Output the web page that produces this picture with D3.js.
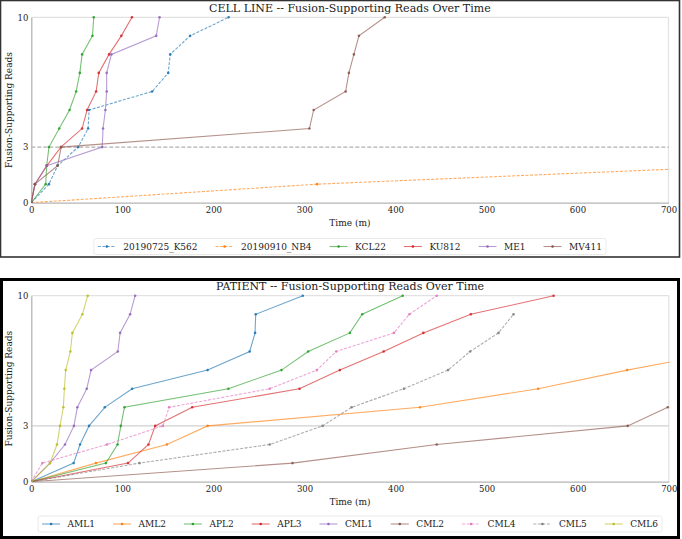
<!DOCTYPE html>
<html>
<head>
<meta charset="utf-8">
<script src="https://cdn.jsdelivr.net/npm/d3@7"></script>
<style>
  html, body { margin: 0; padding: 0; background: #fff; }
  svg { display: block; }
  text { font-family: "DejaVu Serif", serif; fill: #222; }
</style>
</head>
<body>
<svg id="chart" width="682" height="539"></svg>
<script>
// ---------- DATA ----------
const xTicks = [0, 100, 200, 300, 400, 500, 600, 700];
const yTicks = [0, 3, 10];
const threshold = 3;

// Cell line panel
const cellTitle = "CELL LINE -- Fusion-Supporting Reads Over Time";
const cellNames = ["20190725_K562", "20190910_NB4", "KCL22", "KU812", "ME1", "MV411"];
const cellColors = ["#1f77b4", "#ff7f0e", "#2ca02c", "#d62728", "#9467bd", "#8c564b"];
const cellDashed = [true, true, false, false, false, false];
const k562Time  = [0, 19.4, 28.9, 51.5, 62.4, 63.5, 132.8, 150.4, 152.6, 174.5, 216.8];
const k562Reads = [0, 1, 2, 3, 4, 5, 6, 7, 8, 9, 10];
const nb4Time   = [0, 314, 796];
const nb4Reads  = [0, 1, 2];
const kcl22Time  = [0, 15.8, 16.9, 19.4, 30.7, 42, 49.3, 53.3, 55.8, 67.2, 68.6];
const kcl22Reads = [0, 1, 2, 3, 4, 5, 6, 7, 8, 9, 10];
const ku812Time  = [0, 4, 17.2, 32.5, 55.8, 61.3, 71.2, 74.1, 85.4, 98.9, 110.6];
const ku812Reads = [0, 1, 2, 3, 4, 5, 6, 7, 8, 9, 10];
const me1Time  = [0, 4, 16.9, 77.9, 78.8, 81.4, 82.8, 82.8, 88, 137.2, 140.9];
const me1Reads = [0, 1, 2, 3, 4, 5, 6, 7, 8, 9, 10];
const mv411Time  = [0, 4, 28.9, 32.8, 305.5, 310.2, 345.3, 348.9, 354.4, 359.9, 388.3];
const mv411Reads = [0, 1, 2, 3, 4, 5, 6, 7, 8, 9, 10];

// Patient panel
const patientTitle = "PATIENT -- Fusion-Supporting Reads Over Time";
const patientNames = ["AML1", "AML2", "APL2", "APL3", "CML1", "CML2", "CML4", "CML5", "CML6"];
const patientColors = ["#1f77b4", "#ff7f0e", "#2ca02c", "#d62728", "#9467bd", "#8c564b", "#e377c2", "#7f7f7f", "#bcbd22"];
const patientDashed = [false, false, false, false, false, false, true, true, false];
const aml1Time  = [0, 46.5, 53.5, 63.4, 80.7, 110.7, 193.6, 239.8, 245.7, 246.4, 298.1];
const aml1Reads = [0, 1, 2, 3, 4, 5, 6, 7, 8, 9, 10];
const aml2Time  = [0, 71, 148.9, 193.6, 426.8, 556.6, 654.2, 763];
const aml2Reads = [0, 1, 2, 3, 4, 5, 6, 7];
const apl2Time  = [0, 81.9, 94.7, 98.3, 102.3, 216.4, 274.7, 304, 349.8, 363.4, 407.8];
const apl2Reads = [0, 1, 2, 3, 4, 5, 6, 7, 8, 9, 10];
const apl3Time  = [0, 106.2, 128.7, 136, 176.7, 294.5, 338.8, 386.9, 430.5, 482.6, 573.5];
const apl3Reads = [0, 1, 2, 3, 4, 5, 6, 7, 8, 9, 10];
const cml1Time  = [0, 20.5, 37, 46.8, 50.6, 60.9, 65.6, 95, 97.5, 108.5, 114];
const cml1Reads = [0, 1, 2, 3, 4, 5, 6, 7, 8, 9, 10];
const cml2Time  = [0, 286.8, 445.2, 654.9, 698.9];
const cml2Reads = [0, 1, 2, 3, 4];
const cml4Time  = [0, 12.1, 83, 144.5, 151.4, 261.8, 313.5, 334.8, 398.2, 415.1, 445.2];
const cml4Reads = [0, 1, 2, 3, 4, 5, 6, 7, 8, 9, 10];
const cml5Time  = [0, 118.8, 261.8, 319.8, 351.7, 409.2, 457.6, 481.8, 513, 529.5];
const cml5Reads = [0, 1, 2, 3, 4, 5, 6, 7, 8, 9];
const cml6Time  = [0, 20.5, 28.2, 31.5, 35.2, 36.3, 37.8, 42.9, 45.1, 56.1, 62];
const cml6Reads = [0, 1, 2, 3, 4, 5, 6, 7, 8, 9, 10];

// ---------- BUILD TABLES ----------
function zipSeries(t, r) { return t.map((v, i) => ({ t: v, r: r[i] })); }
const cellSeries = [
  zipSeries(k562Time, k562Reads), zipSeries(nb4Time, nb4Reads), zipSeries(kcl22Time, kcl22Reads),
  zipSeries(ku812Time, ku812Reads), zipSeries(me1Time, me1Reads), zipSeries(mv411Time, mv411Reads)
].map((pts, i) => ({ name: cellNames[i], color: cellColors[i], dashed: cellDashed[i], pts }));
const patientSeries = [
  zipSeries(aml1Time, aml1Reads), zipSeries(aml2Time, aml2Reads), zipSeries(apl2Time, apl2Reads),
  zipSeries(apl3Time, apl3Reads), zipSeries(cml1Time, cml1Reads), zipSeries(cml2Time, cml2Reads),
  zipSeries(cml4Time, cml4Reads), zipSeries(cml5Time, cml5Reads), zipSeries(cml6Time, cml6Reads)
].map((pts, i) => ({ name: patientNames[i], color: patientColors[i], dashed: patientDashed[i], pts }));

// ---------- DRAW ----------
const svg = d3.select("#chart");

function drawPanel(cfg) {
  const g = svg.append("g");
  // panel border
  g.append("rect")
    .attr("x", cfg.border.x).attr("y", cfg.border.y)
    .attr("width", cfg.border.w).attr("height", cfg.border.h)
    .attr("fill", "none").attr("stroke", cfg.border.color).attr("stroke-width", cfg.border.sw);

  const x = d3.scaleLinear().domain([0, 700]).range([cfg.left, cfg.right]);
  const y = d3.scaleLinear().domain([0, 10]).range([cfg.bottom, cfg.top]);

  // frame (spines)
  g.append("line").attr("x1", cfg.left).attr("x2", cfg.right).attr("y1", cfg.top).attr("y2", cfg.top)
    .attr("stroke", "#e2e2e2").attr("stroke-width", 1.2);
  g.append("line").attr("x1", cfg.right).attr("x2", cfg.right).attr("y1", cfg.top).attr("y2", cfg.bottom)
    .attr("stroke", "#e2e2e2").attr("stroke-width", 1.2);

  // threshold line
  g.append("line")
    .attr("x1", cfg.left).attr("x2", cfg.right)
    .attr("y1", y(threshold)).attr("y2", y(threshold))
    .attr("stroke", cfg.thresholdColor).attr("stroke-width", 1.2)
    .attr("stroke-dasharray", cfg.thresholdDash ? "4,2" : null);

  // axes
  const xAxis = g.append("g").attr("transform", `translate(0,${cfg.bottom})`)
    .call(d3.axisBottom(x).tickValues(xTicks).tickSize(0).tickPadding(4).tickFormat(d3.format("d")));
  xAxis.select(".domain").attr("stroke", "#b5b5b5").attr("stroke-width", 1.3);
  xAxis.selectAll("text").attr("font-size", 8.5).attr("font-family", "DejaVu Serif").attr("fill", "#333");

  const yAxis = g.append("g").attr("transform", `translate(${cfg.left},0)`)
    .call(d3.axisLeft(y).tickValues(yTicks).tickSize(0).tickPadding(3).tickFormat(d3.format("d")));
  yAxis.select(".domain").attr("stroke", "#b5b5b5").attr("stroke-width", 1.3);
  yAxis.selectAll("text").attr("font-size", 8.5).attr("font-family", "DejaVu Serif").attr("fill", "#333");

  // clip
  const clipId = "clip-" + cfg.id;
  svg.append("defs").append("clipPath").attr("id", clipId)
    .append("rect").attr("x", cfg.left).attr("y", cfg.top - 2)
    .attr("width", cfg.right - cfg.left + 1).attr("height", cfg.bottom - cfg.top + 2);

  const line = d3.line().x(d => x(d.t)).y(d => y(d.r));
  const plot = g.append("g").attr("clip-path", `url(#${clipId})`);
  cfg.series.forEach(s => {
    plot.append("path").datum(s.pts)
      .attr("d", line).attr("fill", "none")
      .attr("stroke", s.color).attr("stroke-width", 1.1).attr("stroke-opacity", 0.65)
      .attr("stroke-dasharray", s.dashed ? "3,1.5" : null);
    plot.selectAll(null).data(s.pts).enter().append("circle")
      .attr("cx", d => x(d.t)).attr("cy", d => y(d.r)).attr("r", 1.3)
      .attr("fill", s.color).attr("fill-opacity", 0.9);
  });

  // title
  g.append("text").attr("x", (cfg.left + cfg.right) / 2).attr("y", cfg.titleY)
    .attr("text-anchor", "middle").attr("font-size", 11).text(cfg.title);
  // x label
  g.append("text").attr("x", (cfg.left + cfg.right) / 2).attr("y", cfg.bottom + 23)
    .attr("text-anchor", "middle").attr("font-size", 9).text("Time (m)");
  // y label
  g.append("text")
    .attr("transform", `translate(11.5,${(cfg.top + cfg.bottom) / 2}) rotate(-90)`)
    .attr("text-anchor", "middle").attr("font-size", 9).text("Fusion-Supporting Reads");

  // legend
  const lg = g.append("g");
  const fs = 9, handle = 18, pad = 7.5, colSp = 18;
  const items = cfg.series.map(s => {
    const t = lg.append("text").attr("font-size", fs).attr("dominant-baseline", "central").text(s.name);
    return { s, t, w: t.node().getComputedTextLength() };
  });
  const total = d3.sum(items, d => handle + pad + d.w) + colSp * (items.length - 1);
  let cx = (cfg.left + cfg.right) / 2 - total / 2;
  const ly = cfg.legendY;
  lg.insert("rect", ":first-child")
    .attr("x", cx - 4).attr("y", ly - 8).attr("width", total + 8).attr("height", 16)
    .attr("rx", 2).attr("fill", "#fff").attr("stroke", "#e4e4e4").attr("stroke-width", 0.8);
  items.forEach(it => {
    lg.append("line").attr("x1", cx).attr("x2", cx + handle).attr("y1", ly).attr("y2", ly)
      .attr("stroke", it.s.color).attr("stroke-width", 1.1).attr("stroke-opacity", 0.65)
      .attr("stroke-dasharray", it.s.dashed ? "3,1.5" : null);
    lg.append("circle").attr("cx", cx + handle / 2).attr("cy", ly).attr("r", 1.3).attr("fill", it.s.color);
    it.t.attr("x", cx + handle + pad).attr("y", ly);
    cx += handle + pad + it.w + colSp;
  });
}

drawPanel({
  id: "cell", series: cellSeries, title: cellTitle,
  left: 31.3, right: 668.5, top: 17.3, bottom: 202.7,
  titleY: 12, legendY: 246.5,
  thresholdColor: "#b0b0b0", thresholdDash: true,
  border: { x: 0.5, y: 0.5, w: 679, h: 256.5, color: "#333", sw: 1.6 }
});
drawPanel({
  id: "patient", series: patientSeries, title: patientTitle,
  left: 31.3, right: 668.8, top: 295.7, bottom: 481.7,
  titleY: 290, legendY: 524,
  thresholdColor: "#d0d0d0", thresholdDash: false,
  border: { x: 1.5, y: 279.5, w: 677, h: 258, color: "#000", sw: 3 }
});
</script>
</body>
</html>
